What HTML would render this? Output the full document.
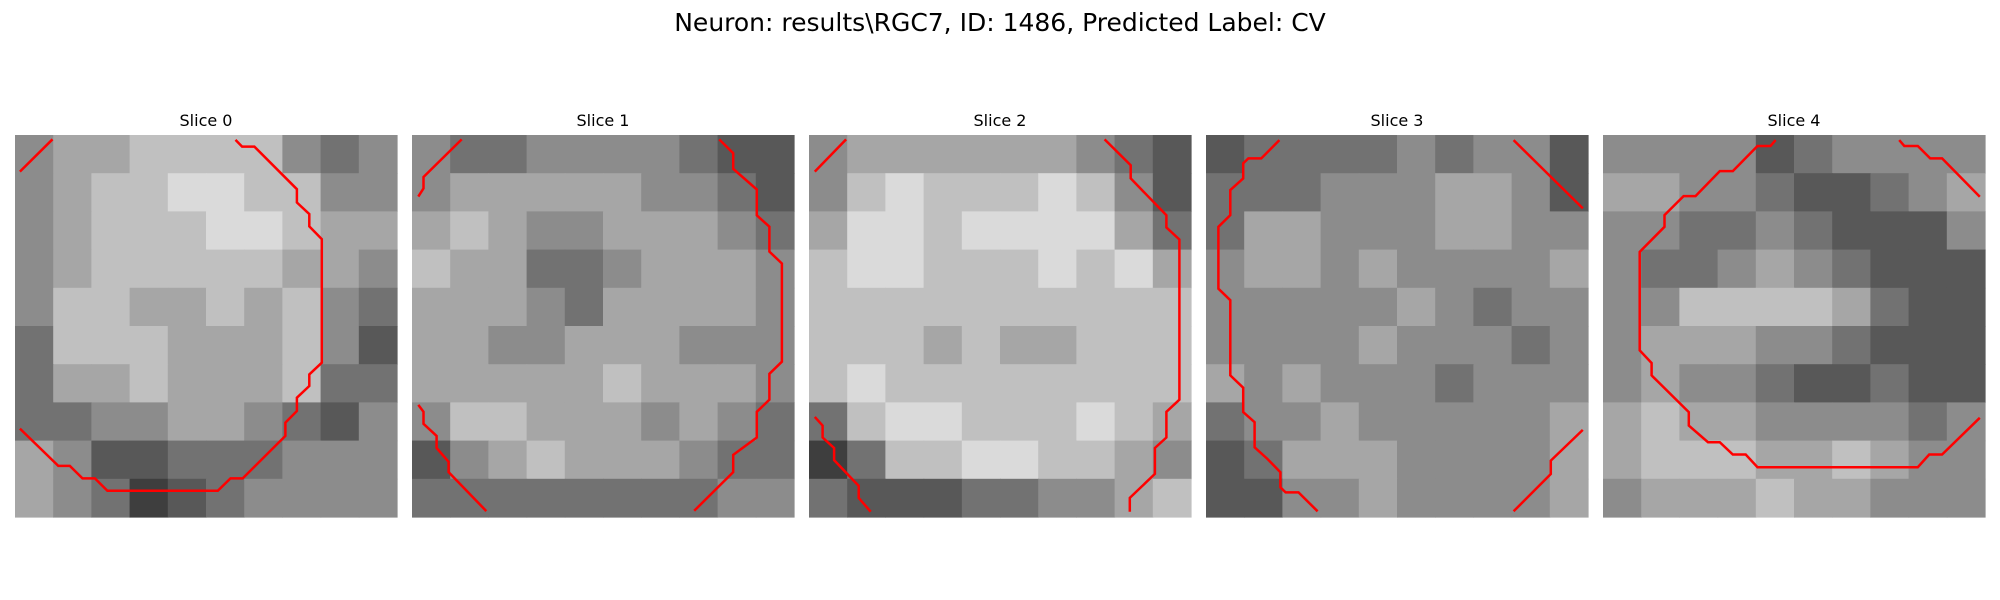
<!DOCTYPE html>
<html><head><meta charset="utf-8"><style>
html,body{margin:0;padding:0;background:#fff;}
svg{display:block;font-family:"DejaVu Sans","Liberation Sans",sans-serif;}
</style></head><body>
<svg id="fig" width="2000" height="600" viewBox="0 0 2000 600">
<text x="1000" y="31" text-anchor="middle" font-size="25" fill="#000">Neuron: results\RGC7, ID: 1486, Predicted Label: CV</text>
</svg>
<script>
const sliceLabels = ["Slice 0","Slice 1","Slice 2","Slice 3","Slice 4"];
const slice0 = [
[5,6,6,7,7,7,7,5,4,5],[5,6,7,7,8,8,7,7,5,5],[5,6,7,7,7,8,8,7,6,6],[5,6,7,7,7,7,7,6,6,5],[5,7,7,6,6,7,6,7,5,4],
[4,7,7,7,6,6,6,7,5,3],[4,6,6,7,6,6,6,7,4,4],[4,4,5,5,6,6,5,4,3,5],[6,5,3,3,4,4,4,5,5,5],[6,5,4,2,3,4,5,5,5,5]];
const slice1 = [
[5,4,4,5,5,5,5,4,3,3],[5,6,6,6,6,6,5,5,4,3],[6,7,6,5,5,6,6,6,5,4],[7,6,6,4,4,5,6,6,6,5],[6,6,6,5,4,6,6,6,6,5],
[6,6,5,5,6,6,6,5,5,5],[6,6,6,6,6,7,6,6,6,5],[5,7,7,6,6,6,5,6,5,4],[3,5,6,7,6,6,6,5,4,4],[4,4,4,4,4,4,4,4,5,5]];
const slice2 = [
[5,6,6,6,6,6,6,5,4,3],[5,7,8,7,7,7,8,7,5,3],[6,8,8,7,8,8,8,8,6,4],[7,8,8,7,7,7,8,7,8,6],[7,7,7,7,7,7,7,7,7,7],
[7,7,7,6,7,6,6,7,7,7],[7,8,7,7,7,7,7,7,7,7],[4,7,8,8,7,7,7,8,7,6],[2,4,7,7,8,8,7,7,6,5],[4,3,3,3,4,4,5,5,6,7]];
const slice3 = [
[3,4,4,4,4,5,4,5,5,3],[4,4,4,5,5,5,6,6,5,3],[4,6,6,5,5,5,6,6,5,5],[5,6,6,5,6,5,5,5,5,6],[5,5,5,5,5,6,5,4,5,5],
[5,5,5,5,6,5,5,5,4,5],[6,5,6,5,5,5,4,5,5,5],[4,5,5,6,5,5,5,5,5,6],[3,4,6,6,6,5,5,5,5,6],[3,3,5,5,6,5,5,5,5,6]];
const slice4 = [
[5,5,5,5,3,4,5,5,5,5],[6,6,5,5,4,3,3,4,5,6],[5,5,4,4,5,4,3,3,3,5],[5,4,4,5,6,5,4,3,3,3],[5,5,7,7,7,7,6,4,3,3],
[5,6,6,6,5,5,4,3,3,3],[5,6,5,5,4,3,3,4,3,3],[6,7,6,6,5,5,5,5,4,5],[6,7,7,7,6,6,7,6,5,5],[5,6,6,6,7,6,6,5,5,5]];
const slices = [slice0,slice1,slice2,slice3,slice4];
const contours = [
 [[[0.4,3.04],[2.97,0.35]],
  [[17.89,18.43,19.43,22.88,22.88,23.88,23.88,24.9,24.9,23.88,23.88,22.88,22.88,21.94,21.94,18.48,17.49,16.46,7.5,6.48,5.48,4.45,3.51,0.4],
   [0.4,0.94,0.94,4.4,5.48,6.42,7.42,8.45,18.48,19.43,20.37,21.32,22.4,23.34,24.42,27.87,27.87,28.87,28.87,27.87,27.87,26.85,26.85,23.83]]],
 [[[0.51,0.93,0.93,4.03],[5.0,4.33,3.41,0.36]],
  [[24.93,26.07,26.07,27.98,27.98,29,29,30.02,30.02,29,29,27.98,27.98,26.07,26.07,22.9],
   [0.36,1.48,2.74,4.42,6.52,7.44,9.46,10.43,18.4,19.38,21.48,22.46,24.55,25.96,27.36,30.5]],
  [[0.51,0.93,0.93,2.0,2.0,2.97,2.97,6.03],[21.9,22.46,23.44,24.42,25.4,26.52,27.36,30.52]]],
 [[[0.47,3.01],[2.97,0.36]],
  [[23.99,26.11,26.11,29.0,29.0,30.06,30.06,29.0,29.0,28.07,28.07,26.03,26.03],
   [0.36,2.46,3.52,6.52,7.5,8.48,21.48,22.46,24.55,25.4,27.5,29.45,30.57]],
  [[0.47,1.1,1.1,2.04,2.04,4.03,4.03,5.01],[22.88,23.58,24.55,25.4,26.38,28.48,29.45,30.57]]],
 [[[5.96,4.49,3.44,3.02,3.02,1.97,1.97,1.01,1.01,1.97,1.97,3.02,3.02,3.94,3.94,4.99,6.04,6.04,6.46,7.51,9.06],
   [0.41,1.9,1.9,2.3,3.52,4.47,6.5,7.45,12.47,13.41,19.51,20.51,22.49,23.31,25.34,26.29,27.37,28.59,29.0,29.0,30.54]],
  [[24.96,30.58],[0.41,5.96]],
  [[24.96,27.98,27.98,30.58],[30.54,27.51,26.42,23.93]]],
 [[[14.01,13.59,12.54,10.53,9.48,7.51,6.54,4.99,4.99,2.98,2.98,3.94,3.94,6.96,6.96,8.52,9.48,10.53,11.58,12.54,25.55,26.47,27.52,30.58],
   [0.41,0.89,0.89,2.93,2.93,4.96,4.96,6.5,7.45,9.49,17.48,18.5,19.51,22.49,23.58,24.93,24.93,25.93,25.93,26.96,26.96,25.93,25.93,22.95]],
  [[24.04,24.45,25.55,26.55,27.52,30.58],[0.41,0.89,0.89,1.9,1.9,5.01]]]
];
const NS="http://www.w3.org/2000/svg";
const svg=document.getElementById('fig');
const panelX=[15,412,809,1206,1603], panelY=135, panelS=382, CELLS=31;
function gray(v){const g=Math.round(v*26+10);return `rgb(${g},${g},${g})`;}
slices.forEach((grid,p)=>{
  const g=document.createElementNS(NS,'g');
  
  
  svg.appendChild(g);
  const t=document.createElementNS(NS,'text');
  
  
  t.setAttribute('x',panelX[p]+panelS/2);t.setAttribute('y',126);
  t.setAttribute('text-anchor','middle');t.setAttribute('font-size','16');
  t.textContent=sliceLabels[p];g.appendChild(t);
  const n=grid.length, cs=panelS/n;
  grid.forEach((row,r)=>row.forEach((v,c)=>{
    const rc=document.createElementNS(NS,'rect');
    
    
    rc.setAttribute('x',panelX[p]+c*cs);rc.setAttribute('y',panelY+r*cs);
    rc.setAttribute('width',cs+0.6);rc.setAttribute('height',cs+0.6);
    rc.setAttribute('fill',gray(v));g.appendChild(rc);
  }));
  const u=panelS/CELLS;
  contours[p].forEach(([xs,ys])=>{
    const pl=document.createElementNS(NS,'polyline');
    
    
    pl.setAttribute('points',xs.map((x,i)=>(panelX[p]+x*u).toFixed(1)+','+(panelY+ys[i]*u).toFixed(1)).join(' '));
    pl.setAttribute('fill','none');pl.setAttribute('stroke','#ff0000');pl.setAttribute('stroke-width','2.5');
    g.appendChild(pl);
  });
});
</script>
</body></html>
